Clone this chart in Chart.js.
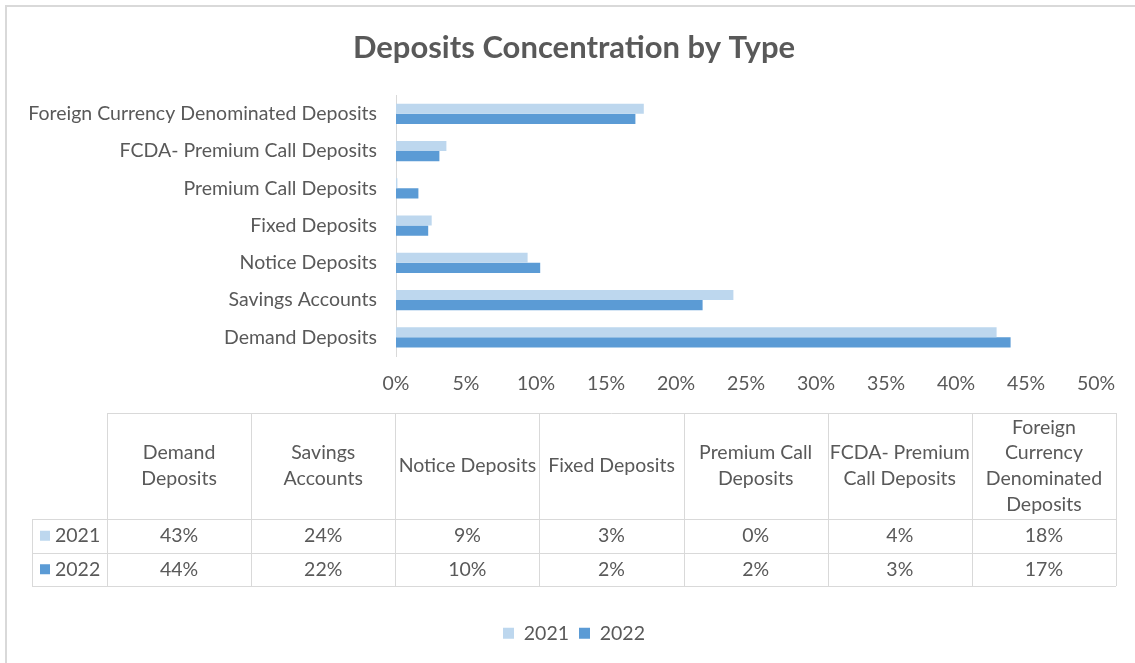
<!DOCTYPE html>
<html>
<head>
<meta charset="utf-8">
<script src="https://cdn.jsdelivr.net/npm/chart.js@4.4.1/dist/chart.umd.min.js"></script>
<style>
  html, body { margin: 0; padding: 0; background: #fff; }
  #wrap { width: 1135px; height: 663px; }
</style>
</head>
<body>
<div id="wrap"><canvas id="depositsChart" width="1135" height="663"></canvas></div>
<script>
// Data (percent of total deposits)
const categories = [
    'Demand Deposits',
    'Savings Accounts',
    'Notice Deposits',
    'Fixed Deposits',
    'Premium Call Deposits',
    'FCDA- Premium Call Deposits',
    'Foreign Currency Denominated Deposits'
];
const seriesNames = ['2021', '2022'];
const values2021 = [42.9, 24.1, 9.4, 2.55, 0.1, 3.6, 17.7];
const values2022 = [43.9, 21.9, 10.3, 2.3, 1.6, 3.1, 17.1];
const xTicks = [0, 5, 10, 15, 20, 25, 30, 35, 40, 45, 50];

const TEXT = '#595959';
const LINE = '#d9d9d9';
const colors = ['#BDD7EE', '#5B9BD5'];
const FONT = 'Lato, "Open Sans", sans-serif';
const FS = 19.5;

// data table under the chart, drawn on the same canvas
const dataTablePlugin = {
    id: 'dataTable',
    beforeDraw(chart) {
        const ctx = chart.ctx;
        ctx.save();
        ctx.fillStyle = '#fff';
        ctx.fillRect(0, 0, chart.width, chart.height);
        ctx.strokeStyle = LINE;
        ctx.lineWidth = 2;
        ctx.strokeRect(6, 6, chart.width + 20, chart.height + 20);
        ctx.restore();
    },
    afterDraw(chart) {
        const ctx = chart.ctx;
        const left = 32, headRight = 107, right = 1116;
        const top = 413, headBottom = 519, rowH = 33.5;
        const colW = (right - headRight) / categories.length;
        const rows = [values2021, values2022];
        const bottom = headBottom + rowH * rows.length;

        ctx.save();
        ctx.strokeStyle = LINE;
        ctx.lineWidth = 1;
        ctx.beginPath();
        // horizontal lines
        ctx.moveTo(headRight, top + 0.5); ctx.lineTo(right, top + 0.5);
        for (let r = 0; r <= rows.length; r++) {
            const y = Math.round(headBottom + r * rowH) + 0.5;
            ctx.moveTo(left, y); ctx.lineTo(right, y);
        }
        // vertical lines
        ctx.moveTo(left + 0.5, headBottom); ctx.lineTo(left + 0.5, bottom);
        for (let c = 0; c <= categories.length; c++) {
            const x = Math.round(headRight + c * colW) + 0.5;
            ctx.moveTo(x, top); ctx.lineTo(x, bottom);
        }
        ctx.stroke();

        ctx.font = FS + 'px ' + FONT;
        ctx.fillStyle = TEXT;
        ctx.textAlign = 'center';
        ctx.textBaseline = 'middle';

        // header labels, wrapped to the column width
        const lineH = 25.7;
        categories.forEach((label, c) => {
            const words = label.split(' ');
            const lines = [];
            let cur = '';
            words.forEach(w => {
                const test = cur ? cur + ' ' + w : w;
                if (cur && ctx.measureText(test).width > colW - 4) {
                    lines.push(cur);
                    cur = w;
                } else {
                    cur = test;
                }
            });
            lines.push(cur);
            const cx = headRight + c * colW + colW / 2;
            const cy = (top + headBottom) / 2;
            lines.forEach((ln, i) => {
                ctx.fillText(ln, cx, cy + (i - (lines.length - 1) / 2) * lineH);
            });
        });

        // value rows
        rows.forEach((vals, r) => {
            const cy = headBottom + r * rowH + rowH / 2;
            vals.forEach((v, c) => {
                ctx.fillText(Math.round(v) + '%', headRight + c * colW + colW / 2, cy);
            });
            ctx.fillStyle = colors[r];
            ctx.fillRect(40, cy - 5, 10, 10);
            ctx.fillStyle = TEXT;
            ctx.textAlign = 'left';
            ctx.fillText(seriesNames[r], 55, cy);
            ctx.textAlign = 'center';
        });
        ctx.restore();
    }
};

const ctx = document.getElementById('depositsChart').getContext('2d');
const chart = new Chart(ctx, {
    type: 'bar',
    data: {
        labels: categories,
        datasets: [
            { label: seriesNames[0], data: values2021, backgroundColor: colors[0] },
            { label: seriesNames[1], data: values2022, backgroundColor: colors[1] }
        ]
    },
    options: {
        indexAxis: 'y',
        responsive: false,
        animation: false,
        categoryPercentage: 0.54,
        barPercentage: 1.0,
        // negative right padding + empty right axis keeps the title centred like the original
        layout: { padding: { left: 0, right: -13, top: 0, bottom: 10 } },
        scales: {
            y: {
                reverse: true,
                grid: { display: false, drawTicks: false },
                border: { display: true, color: LINE, width: 1 },
                ticks: { color: TEXT, font: { family: FONT, size: FS }, padding: 19 },
                afterFit(scale) { scale.width = 396; }
            },
            yRight: {
                type: 'linear',
                position: 'right',
                grid: { display: false, drawTicks: false },
                border: { display: false },
                ticks: { display: false },
                afterFit(scale) { scale.width = 52; }
            },
            x: {
                min: 0,
                max: 50,
                afterBuildTicks(scale) { scale.ticks = xTicks.map(v => ({ value: v })); },
                grid: { display: false, drawTicks: false },
                border: { display: false },
                ticks: {
                    color: TEXT,
                    font: { family: FONT, size: FS },
                    padding: 16,
                    callback: v => v + '%'
                },
                afterFit(scale) { scale.height = 257.5; }
            }
        },
        plugins: {
            title: {
                display: true,
                text: 'Deposits Concentration by Type',
                color: TEXT,
                font: { family: FONT, size: 31, weight: 'bold' },
                padding: { top: 29, bottom: 29 }
            },
            legend: {
                position: 'bottom',
                labels: {
                    color: TEXT,
                    font: { family: FONT, size: FS },
                    boxWidth: 11,
                    boxHeight: 11,
                    padding: 10
                }
            },
            tooltip: { enabled: false }
        }
    },
    plugins: [dataTablePlugin]
});
</script>
</body>
</html>
